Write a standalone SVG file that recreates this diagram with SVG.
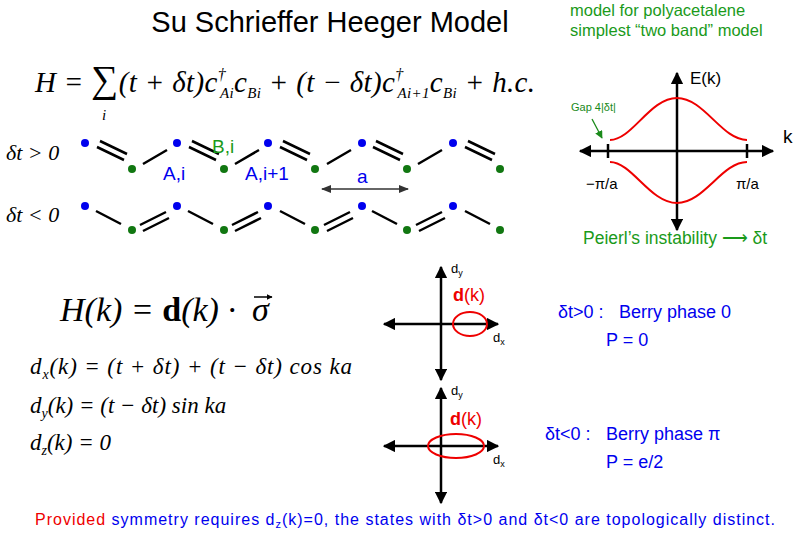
<svg xmlns="http://www.w3.org/2000/svg" width="800" height="533" viewBox="0 0 800 533">
<defs>
<marker id="ah" viewBox="0 0 10 10" refX="9" refY="5" markerWidth="5" markerHeight="5" orient="auto-start-reverse"><path d="M0,0L10,5L0,10z" fill="#000"/></marker>
<marker id="as" viewBox="0 0 10 10" refX="9" refY="5" markerWidth="7" markerHeight="7" orient="auto-start-reverse"><path d="M0,1L10,5L0,9z" fill="#333"/></marker>
<marker id="ag" viewBox="0 0 10 10" refX="9" refY="5" markerWidth="6" markerHeight="6" orient="auto"><path d="M0,0L10,5L0,10z" fill="#1a8a1a"/></marker>
<marker id="av" viewBox="0 0 10 10" refX="9" refY="5" markerWidth="4" markerHeight="4" orient="auto"><path d="M0,0L10,5L0,10z" fill="#000"/></marker>
</defs>
<style>
.s{font-family:"Liberation Sans",Arial,sans-serif}
.m{font-family:"Liberation Serif","Times New Roman",serif;font-style:italic}
.b{stroke:#000;stroke-width:2.5}
.ax{stroke:#000;stroke-width:2.5;fill:none}
.A{fill:#0000ee}.B{fill:#117711}
.red{fill:none;stroke:#e00;stroke-width:2}
</style>
<rect width="800" height="533" fill="#fff"/>
<text class="s" x="330" y="32" font-size="29" text-anchor="middle">Su Schrieffer Heeger Model</text>
<text class="s" x="570" y="16" font-size="16.5" fill="#1a9a1a">model for polyacetalene</text>
<text class="s" x="570" y="36" font-size="16.5" fill="#1a9a1a">simplest “two band” model</text>
<text class="m" x="35" y="92" font-size="29" textLength="500">H = <tspan font-style="normal" font-size="38">∑</tspan>(t + δt)c<tspan font-size="16" dy="-12">†</tspan><tspan font-size="15" dx="-6" dy="18">Ai</tspan><tspan dy="-6">c</tspan><tspan font-size="15" dy="6">Bi</tspan><tspan dy="-6"> + (t − δt)c</tspan><tspan font-size="16" dy="-12">†</tspan><tspan font-size="15" dx="-6" dy="18">Ai+1</tspan><tspan dy="-6">c</tspan><tspan font-size="15" dy="6">Bi</tspan><tspan dy="-6"> + h.c.</tspan></text>
<text class="m" x="102" y="120" font-size="15">i</text>
<text class="m" x="6" y="160" font-size="22">δt &gt; 0</text>
<text class="m" x="6" y="222" font-size="22">δt &lt; 0</text>
<g id="bonds">
<g class="b">
<path d="M97,147L124,160M100,141L127,154M189,147L216,160M192,141L219,154M280,147L307,160M283,141L310,154M373,147L400,160M376,141L403,154M465,147L492,160M468,141L495,154"/>
<path d="M143,164L167,150M235,164L259,150M327,164L351,150M418,164L442,150"/>
<path d="M96,211L121,224M188,211L213,224M280,211L305,224M372,211L397,224M465,211L490,224"/>
<path d="M140,225L166,212M143,231L169,218M232,225L258,212M235,231L261,218M324,225L350,212M327,231L353,218M416,225L442,212M419,231L445,218"/>
</g>
<line x1="322" y1="189" x2="408" y2="189" stroke="#333" stroke-width="1.5" marker-start="url(#as)" marker-end="url(#as)"/>
</g>
<g id="atoms">
<circle class="A" cx="85" cy="143" r="4"/><circle class="A" cx="177" cy="143" r="4"/><circle class="A" cx="268" cy="143" r="4"/><circle class="A" cx="362" cy="143" r="4"/><circle class="A" cx="453" cy="143" r="4"/>
<circle class="B" cx="132" cy="169" r="4"/><circle class="B" cx="224" cy="169" r="4"/><circle class="B" cx="315" cy="169" r="4"/><circle class="B" cx="407" cy="169" r="4"/><circle class="B" cx="500" cy="169" r="4"/>
<circle class="A" cx="85" cy="206" r="4"/><circle class="A" cx="177" cy="206" r="4"/><circle class="A" cx="268" cy="206" r="4"/><circle class="A" cx="362" cy="206" r="4"/><circle class="A" cx="453" cy="206" r="4"/>
<circle class="B" cx="132" cy="230" r="4"/><circle class="B" cx="224" cy="230" r="4"/><circle class="B" cx="315" cy="230" r="4"/><circle class="B" cx="407" cy="230" r="4"/><circle class="B" cx="500" cy="230" r="4"/>
</g>
<text class="s" x="212" y="153" font-size="19" fill="#1a9a1a">B,i</text>
<text class="s" x="163" y="180" font-size="19" fill="#0000ee">A,i</text>
<text class="s" x="245" y="180" font-size="19" fill="#0000ee">A,i+1</text>
<text class="s" x="357" y="183" font-size="19" fill="#0000ee">a</text>
<g id="bandplot">
<line class="ax" x1="580" y1="151" x2="773" y2="151" marker-start="url(#ah)" marker-end="url(#ah)"/>
<line class="ax" x1="677" y1="230" x2="677" y2="73" marker-start="url(#ah)" marker-end="url(#ah)"/>
<line x1="608" y1="144" x2="608" y2="158" stroke="#000" stroke-width="2.5"/>
<line x1="747" y1="144" x2="747" y2="158" stroke="#000" stroke-width="2.5"/>
<path class="red" d="M610,140C632,140 650,98 677,98C704,98 722,140 747,140"/>
<path class="red" d="M610,162C632,162 650,203 677,203C704,203 722,162 747,162"/>
<text class="s" x="690" y="84" font-size="17">E(k)</text>
<text class="s" x="783" y="143" font-size="19">k</text>
<text class="s" x="586" y="189" font-size="15">−π/a</text>
<text class="s" x="736" y="189" font-size="15">π/a</text>
<text class="s" x="571" y="111" font-size="11" fill="#1a8a1a">Gap 4|δt|</text>
<line x1="592" y1="119" x2="602" y2="138" stroke="#1a8a1a" stroke-width="1.3" marker-end="url(#ag)"/>
<text class="s" x="583" y="244" font-size="17.5" fill="#1a9a1a">Peierl’s instability ⟶ δt</text>
</g>
<text class="m" x="60" y="321" font-size="34">H(k) = <tspan font-style="normal" font-weight="bold">d</tspan>(k) ·</text>
<text class="m" x="252" y="321" font-size="34">σ</text>
<line x1="254" y1="297" x2="272" y2="297" stroke="#000" stroke-width="1.5" marker-end="url(#av)"/>
<text class="m" x="30" y="374" font-size="23" textLength="322">d<tspan font-size="14" dy="5">x</tspan><tspan dy="-5">(k) = (t + δt) + (t − δt) cos ka</tspan></text>
<text class="m" x="30" y="413" font-size="23">d<tspan font-size="14" dy="5">y</tspan><tspan dy="-5">(k) = (t − δt) sin ka</tspan></text>
<text class="m" x="30" y="450" font-size="23">d<tspan font-size="14" dy="5">z</tspan><tspan dy="-5">(k) = 0</tspan></text>
<g id="dplot1">
<line class="ax" x1="384" y1="324" x2="498" y2="324" marker-start="url(#ah)" marker-end="url(#ah)"/>
<line class="ax" x1="441" y1="380" x2="441" y2="267" marker-start="url(#ah)" marker-end="url(#ah)"/>
<ellipse class="red" cx="470" cy="324" rx="17" ry="12"/>
<text class="s" x="453" y="301" font-size="18" fill="#e00"><tspan font-weight="bold">d</tspan>(k)</text>
<text class="s" x="451" y="273" font-size="13">d<tspan font-size="9" dy="3">y</tspan></text>
<text class="s" x="493" y="342" font-size="13">d<tspan font-size="9" dy="3">x</tspan></text>
</g>
<g id="dplot2">
<line class="ax" x1="384" y1="446" x2="498" y2="446" marker-start="url(#ah)" marker-end="url(#ah)"/>
<line class="ax" x1="441" y1="503" x2="441" y2="388" marker-start="url(#ah)" marker-end="url(#ah)"/>
<ellipse class="red" cx="456" cy="446" rx="28" ry="12"/>
<text class="s" x="450" y="425" font-size="18" fill="#e00"><tspan font-weight="bold">d</tspan>(k)</text>
<text class="s" x="451" y="395" font-size="13">d<tspan font-size="9" dy="3">y</tspan></text>
<text class="s" x="493" y="464" font-size="13">d<tspan font-size="9" dy="3">x</tspan></text>
</g>
<text class="s" x="558" y="318" font-size="18" fill="#0000ee">δt&gt;0 :<tspan x="619">Berry phase 0</tspan></text>
<text class="s" x="606" y="346" font-size="18" fill="#0000ee">P = 0</text>
<text class="s" x="545" y="440" font-size="18" fill="#0000ee">δt&lt;0 :<tspan x="606">Berry phase π</tspan></text>
<text class="s" x="606" y="468" font-size="18" fill="#0000ee">P = e/2</text>
<text class="s" x="35" y="525" font-size="16" textLength="740"><tspan fill="#e00">Provided </tspan><tspan fill="#0000ee">symmetry requires d<tspan font-size="11" dy="3">z</tspan><tspan dy="-3">(k)=0, the states with δt&gt;0 and δt&lt;0 are topologically distinct.</tspan></tspan></text>
</svg>
